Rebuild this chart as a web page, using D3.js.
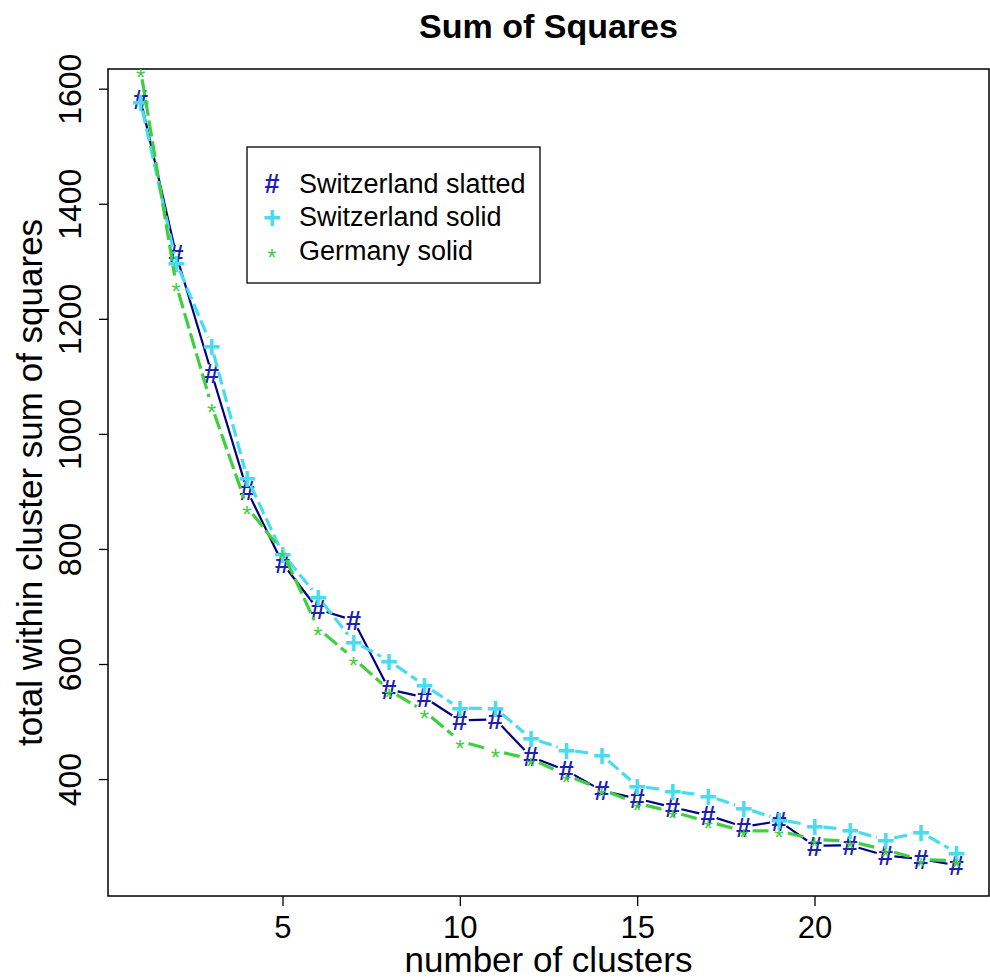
<!DOCTYPE html>
<html>
<head>
<meta charset="utf-8">
<script src="https://cdn.jsdelivr.net/npm/d3@7"></script>
<style>
  body { margin: 0; background: #fff; }
  text { font-family: "Liberation Sans", Arial, sans-serif; }
</style>
</head>
<body>
<div id="chart"></div>
<script>
// number of clusters
const clusters = d3.range(1, 25);

// total within cluster sum of squares
const swissSlatted = [1581, 1312, 1106, 902, 775, 695, 676, 556, 542, 502, 504, 439, 415, 380, 366, 351, 337, 317, 327, 284, 285, 267, 261, 250];
const swissSolid   = [1577, 1298, 1153, 924, 792, 717, 639, 606, 563, 523, 523, 471, 451, 442, 388, 379, 371, 350, 330, 318, 312, 294, 308, 272];
const germanySolid = [1632, 1260, 1049, 873, 795, 662, 610, 555, 518, 466, 449, 435, 407, 382, 358, 343, 326, 310, 310, 295, 292, 277, 260, 258];

const xTicks = [5, 10, 15, 20];
const yTicks = [400, 600, 800, 1000, 1200, 1400, 1600];

const seriesNames = ["Switzerland slatted", "Switzerland solid", "Germany solid"];

const width = 990, height = 980;
const margin = {top: 69, right: 1, bottom: 84, left: 108};

const svg = d3.select("#chart").append("svg")
    .attr("width", width)
    .attr("height", height);

// R style axis range: data range plus 4% each side (ylim from first series)
const xPad = (d3.max(clusters) - d3.min(clusters)) * 0.04;
const yMin = d3.min(swissSlatted), yMax = d3.max(swissSlatted);
const yPad = (yMax - yMin) * 0.04;

const x = d3.scaleLinear()
    .domain([d3.min(clusters) - xPad, d3.max(clusters) + xPad])
    .range([margin.left, width - margin.right]);
const y = d3.scaleLinear()
    .domain([yMin - yPad, yMax + yPad])
    .range([height - margin.bottom, margin.top]);

svg.append("clipPath").attr("id", "plotclip")
  .append("rect")
    .attr("x", margin.left).attr("y", margin.top)
    .attr("width", width - margin.left - margin.right)
    .attr("height", height - margin.top - margin.bottom);

// axes
const xAxis = svg.append("g")
    .attr("transform", `translate(0,${height - margin.bottom})`)
    .call(d3.axisBottom(x).tickValues(xTicks).tickFormat(d3.format("d")).tickSize(10).tickPadding(4));
const yAxis = svg.append("g")
    .attr("transform", `translate(${margin.left},0)`)
    .call(d3.axisLeft(y).tickValues(yTicks).tickFormat(d3.format("d")).tickSize(9).tickPadding(0));

[xAxis, yAxis].forEach(g => {
  g.select(".domain").remove();
  g.selectAll("line").attr("stroke", "#000").attr("stroke-width", 1.3);
  g.selectAll("text").attr("fill", "#000").attr("font-family", "Liberation Sans, Arial, sans-serif");
});
xAxis.selectAll("text")
    .attr("font-size", 31)
    .attr("dy", "0.9em");
yAxis.selectAll("text")
    .attr("font-size", 32)
    .attr("text-anchor", "middle")
    .attr("dy", 0)
    .attr("x", 0).attr("y", 0)
    .attr("transform", "translate(-27,0) rotate(-90)");

// plot box
svg.append("rect")
    .attr("x", margin.left).attr("y", margin.top)
    .attr("width", width - margin.left - margin.right)
    .attr("height", height - margin.top - margin.bottom)
    .attr("fill", "none").attr("stroke", "#000").attr("stroke-width", 1.5);

// titles
svg.append("text")
    .attr("x", (margin.left + width - margin.right) / 2)
    .attr("y", 38)
    .attr("text-anchor", "middle")
    .attr("font-size", 34).attr("font-weight", "bold")
    .text("Sum of Squares");
svg.append("text")
    .attr("x", (margin.left + width - margin.right) / 2)
    .attr("y", 972)
    .attr("text-anchor", "middle")
    .attr("font-size", 35)
    .text("number of clusters");
svg.append("text")
    .attr("transform", `translate(42,${(margin.top + height - margin.bottom) / 2}) rotate(-90)`)
    .attr("text-anchor", "middle")
    .attr("font-size", 35)
    .text("total within cluster sum of squares");

// series (type = "b": points joined by lines with a gap at each point)
const series = [
  {name: seriesNames[0], values: swissSlatted, line: "#000080", sym: "#2020b0", pch: "#", size: 27, weight: "bold", lw: 2.2, dash: null},
  {name: seriesNames[1], values: swissSolid,   line: "#48dcee", sym: "#48dcee", pch: "+", size: 31, weight: "bold", lw: 3.2, dash: "13,5"},
  {name: seriesNames[2], values: germanySolid, line: "#3fcf3f", sym: "#3fcf3f", pch: "*", size: 24, weight: "normal", lw: 3.2, dash: "16,5"}
];

const gap = 9;
const plot = svg.append("g").attr("clip-path", "url(#plotclip)");

series.forEach(s => {
  const pts = clusters.map((c, i) => [x(c), y(s.values[i])]);
  const segs = d3.pairs(pts).map(([a, b]) => {
    const dx = b[0] - a[0], dy = b[1] - a[1];
    const len = Math.hypot(dx, dy);
    if (len <= 2 * gap) return null;
    const ux = dx / len, uy = dy / len;
    return [a[0] + ux * gap, a[1] + uy * gap, b[0] - ux * gap, b[1] - uy * gap];
  }).filter(d => d);

  plot.append("g").selectAll("line").data(segs).join("line")
      .attr("x1", d => d[0]).attr("y1", d => d[1])
      .attr("x2", d => d[2]).attr("y2", d => d[3])
      .attr("stroke", s.line)
      .attr("stroke-width", s.lw)
      .attr("stroke-dasharray", s.dash);

  plot.append("g").selectAll("text").data(pts).join("text")
      .attr("x", d => d[0])
      .attr("y", d => d[1])
      .attr("text-anchor", "middle")
      .attr("dy", s.pch === "*" ? "0.65em" : "0.36em")
      .attr("font-size", s.size)
      .attr("font-weight", s.weight)
      .attr("fill", s.sym)
      .text(s.pch);
});

// legend
const legend = svg.append("g");
legend.append("rect")
    .attr("x", 247).attr("y", 147)
    .attr("width", 293).attr("height", 136)
    .attr("fill", "#fff").attr("stroke", "#000").attr("stroke-width", 1.3);
series.forEach((s, i) => {
  const cy = 183 + i * 33.5;
  legend.append("text")
      .attr("x", 272).attr("y", cy)
      .attr("text-anchor", "middle")
      .attr("dy", s.pch === "*" ? "0.65em" : "0.36em")
      .attr("font-size", s.size)
      .attr("font-weight", s.weight)
      .attr("fill", s.sym)
      .text(s.pch);
  legend.append("text")
      .attr("x", 299).attr("y", cy)
      .attr("dy", "0.36em")
      .attr("font-size", 27)
      .attr("fill", "#000")
      .text(s.name);
});
</script>
</body>
</html>
